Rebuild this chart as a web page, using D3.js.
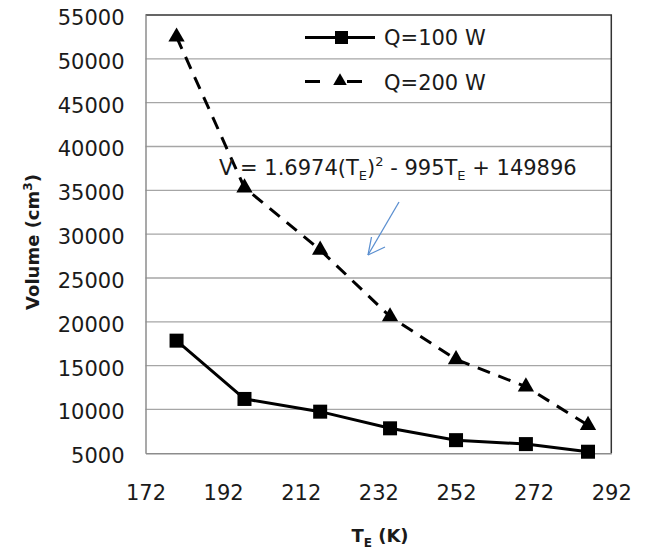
<!DOCTYPE html>
<html><head><meta charset="utf-8">
<script src="https://cdn.jsdelivr.net/npm/d3@7"></script>
<style>body{margin:0;background:#fff}svg{display:block}text{font-family:"DejaVu Sans",Verdana,sans-serif}</style>
</head><body><svg id="c" width="648" height="549"></svg>
<script>
const temps = [180, 197.5, 217, 235, 252, 270, 286];
const q100 = [17850, 11200, 9750, 7850, 6500, 6050, 5180];
const q200 = [52500, 35300, 28200, 20600, 15700, 12600, 8200];
const xTicks = [172, 192, 212, 232, 252, 272, 292];
const yTicks = [5000, 10000, 15000, 20000, 25000, 30000, 35000, 40000, 45000, 50000, 55000];
const seriesNames = ["Q=100 W", "Q=200 W"];

const svg = d3.select("#c");
const L = 145.5, R = 611.3, T = 15, B = 453.3;
const x = d3.scaleLinear().domain([172, 292]).range([L, R]);
const y = d3.scaleLinear().domain([5000, 55000]).range([B, T]);

// gridlines
svg.append("g").selectAll("line").data(yTicks.slice(1, -1)).join("line")
  .attr("x1", L).attr("x2", R).attr("y1", d => y(d)).attr("y2", d => y(d))
  .attr("stroke", "#a6a6a6").attr("stroke-width", 1.3);

// plot border
svg.append("path").attr("d", `M${L},${T}H${R}V${B}`).attr("fill", "none").attr("stroke", "#333").attr("stroke-width", 1.5);

// axes
const yAxis = svg.append("g").attr("transform", `translate(${L},0)`)
  .call(d3.axisLeft(y).tickValues(yTicks).tickSize(0).tickPadding(21).tickFormat(d3.format("d")));
const xAxis = svg.append("g").attr("transform", `translate(0,${B})`)
  .call(d3.axisBottom(x).tickValues(xTicks).tickSize(0).tickPadding(32).tickFormat(d3.format("d")));
[yAxis, xAxis].forEach(a => {
  a.select(".domain").attr("stroke", "#8c8c8c").attr("stroke-width", 1.5);
  a.selectAll("text").attr("font-size", 21).attr("fill", "#1a1a1a").attr("font-family", "'DejaVu Sans',Verdana,sans-serif");
});
yAxis.selectAll("text").attr("dy", "0.45em");

// axis titles
svg.append("text").attr("transform", "translate(39,242) rotate(-90)").attr("text-anchor", "middle")
  .attr("font-size", 18).attr("font-weight", "bold").attr("fill", "#1a1a1a")
  .html('Volume (cm<tspan dy="-7" font-size="12">3</tspan><tspan dy="7">)</tspan>');
svg.append("text").attr("x", 380).attr("y", 542).attr("text-anchor", "middle")
  .attr("font-size", 18).attr("font-weight", "bold").attr("fill", "#1a1a1a")
  .html('T<tspan dy="5" font-size="12">E</tspan><tspan dy="-5"> (K)</tspan>');

const pts = (vals) => temps.map((t, i) => [t, vals[i]]);
const line = d3.line().x(d => x(d[0])).y(d => y(d[1]));

// Q=200 dashed
svg.append("path").attr("d", line(pts(q200))).attr("fill", "none").attr("stroke", "#000")
  .attr("stroke-width", 3).attr("stroke-dasharray", "13,9");
// Q=100 solid
svg.append("path").attr("d", line(pts(q100))).attr("fill", "none").attr("stroke", "#000")
  .attr("stroke-width", 3);

const tri = d3.symbol().type(d3.symbolTriangle).size(115);
svg.append("g").selectAll("path").data(pts(q200)).join("path")
  .attr("d", tri).attr("transform", d => `translate(${x(d[0])},${y(d[1])})`).attr("fill", "#000");
svg.append("g").selectAll("rect").data(pts(q100)).join("rect")
  .attr("x", d => x(d[0]) - 7).attr("y", d => y(d[1]) - 7).attr("width", 14).attr("height", 14).attr("fill", "#000");

// legend
const lg = svg.append("g");
lg.append("line").attr("x1", 305).attr("x2", 375).attr("y1", 37.5).attr("y2", 37.5).attr("stroke", "#000").attr("stroke-width", 3);
lg.append("rect").attr("x", 335).attr("y", 31).attr("width", 13).attr("height", 13).attr("fill", "#000");
lg.append("line").attr("x1", 305).attr("x2", 375).attr("y1", 81.5).attr("y2", 81.5).attr("stroke", "#000").attr("stroke-width", 3).attr("stroke-dasharray", "15,13,0,14,15");
lg.append("path").attr("d", d3.symbol().type(d3.symbolTriangle).size(80)).attr("transform", "translate(340,81)").attr("fill", "#000");
lg.selectAll("text").data(seriesNames).join("text")
  .attr("x", 384).attr("y", (d, i) => 45 + i * 44.5).attr("font-size", 21).attr("fill", "#1a1a1a").text(d => d);

// annotation
svg.append("text").attr("x", 219).attr("y", 175).attr("font-size", 21).attr("fill", "#1a1a1a")
  .html('V = 1.6974(T<tspan dy="5" font-size="13">E</tspan><tspan dy="-5">)</tspan><tspan dy="-9" font-size="13">2</tspan><tspan dy="9"> - 995T</tspan><tspan dy="5" font-size="13">E</tspan><tspan dy="-5"> + 149896</tspan>');
svg.append("line").attr("x1", 399).attr("y1", 202).attr("x2", 368).attr("y2", 255).attr("stroke", "#5b8fd0").attr("stroke-width", 1.3);
svg.append("path").attr("d", "M368,255 L371.5,237 M368,255 L385,247").attr("fill", "none").attr("stroke", "#5b8fd0").attr("stroke-width", 1.3);
</script></body></html>
